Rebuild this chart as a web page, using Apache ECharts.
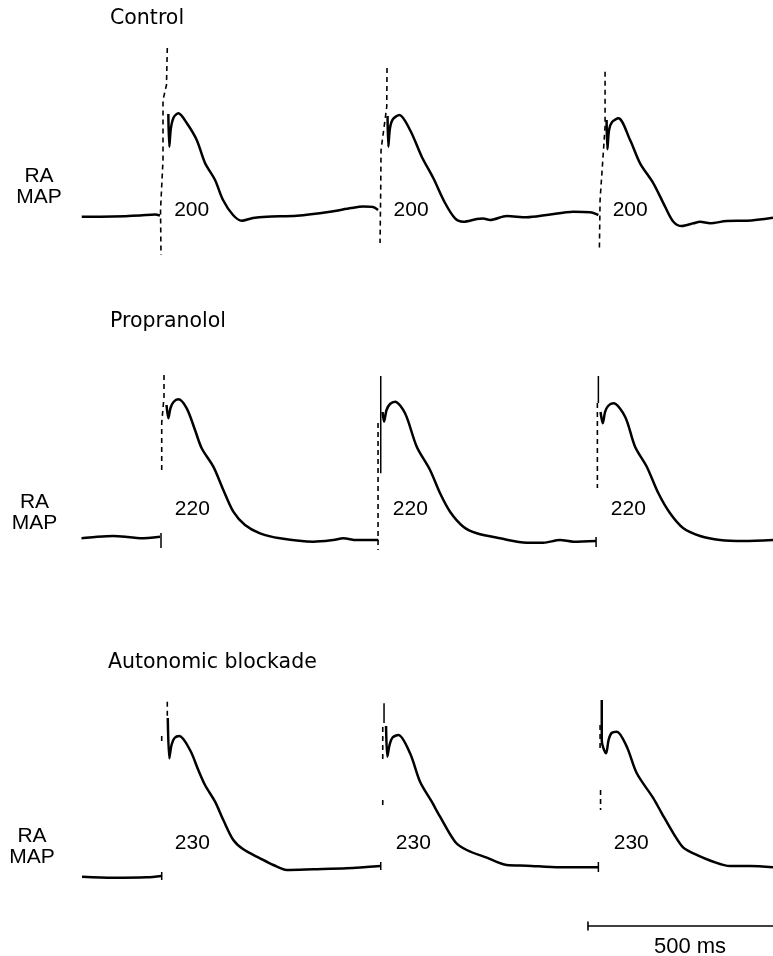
<!DOCTYPE html>
<html><head><meta charset="utf-8">
<script src="https://cdn.jsdelivr.net/npm/echarts@6/dist/echarts.min.js"></script>
<style>html,body{margin:0;padding:0;background:#fff}#c{width:773px;height:956px}</style>
</head><body><div id="c"></div>
<script>
// ---------- DATA ----------
const panelTitles = ['Control', 'Propranolol', 'Autonomic blockade'];
const channelLabel = 'RA\nMAP';
const mapDurations = [[200, 200, 200], [220, 220, 220], [230, 230, 230]];   // ms, printed under each beat
const stimTimes = [[216, 809, 1401], [218, 807, 1396], [218, 815, 1404]];   // pacing stimulus times (ms)
const scaleBarMs = 500;
const scaleBarLabel = '500 ms';
const timeSpanMs = 1870;

// Trace segments: [time ms, amplitude (arbitrary units, baseline ~ 0)]
const controlTrace = [
  [[2,-1.7],[86.5,-1.5],[159.5,-0.5],[200,0.5],[213.5,-0.5]],
  [[236,101],[238.6,68.3],[243,87],[251,98],[263,101.7],[285.7,92],[312.7,75],[335.1,52],[362.2,35],[383.8,15],[410.8,0],[434.3,-5.7],[464.9,-3],[501.9,-1.7],[583,-0.7],[673,3.3],[730,7],[762.2,8.5],[789.2,8],[802.7,5]],
  [[828.4,99],[830.5,68.3],[835,87],[843.2,96],[860.3,100],[889.2,85],[920.8,58.3],[952.2,36.7],[983.8,12],[1010.8,-3.3],[1033.2,-6.7],[1069.5,-4],[1086.5,-3.5],[1105.4,-5],[1150.5,-1],[1204.6,-2.3],[1258.6,0],[1330.5,3.3],[1375.7,2.7],[1398.1,0]],
  [[1420.3,95],[1422.4,65.7],[1427,85],[1435.1,93],[1452.2,96.7],[1483.8,75],[1510.8,51.7],[1546.8,31.7],[1578.4,8.3],[1600.8,-6.7],[1623.5,-11],[1654.9,-8.3],[1673,-6.7],[1700,-8.3],[1745.1,-6],[1799.2,-5.7],[1870,-2.7]]
];
const controlArtifactsSolid = [];
const controlArtifactsDashed = [
  [[233.2,167],[231,130],[221.6,115],[221.6,55],[214.9,5],[216.2,-40]],
  [[827,147],[826.2,108],[810.8,65],[810,28],[808.1,-28]],
  [[1416.2,143.3],[1416.2,88.3],[1402.7,15],[1400.8,-35]]
];

const propranololTrace = [
  [[1.4,-0.3],[37.8,1],[86.5,2],[127,1],[159.5,-0.3],[213.5,1.3]],
  [[231.1,133],[236,119.7],[241.9,130],[250,136],[263,138.7],[285.7,129.7],[308.1,108],[326.2,89.7],[357.6,71.3],[384.6,48],[411.6,26.3],[443.2,13],[483.8,4.7],[537.8,-0.3],[627.8,-3.7],[681.9,-2],[708.9,-0.3],[745.1,-2],[803.5,-2]],
  [[814.9,126],[818.9,116.3],[825.7,128],[835.1,134],[848.6,136.3],[875.7,124.7],[907.3,91.3],[943.2,68],[970.3,44.7],[997.3,26.3],[1033.2,11.3],[1069.5,4.7],[1132.4,-0.3],[1204.6,-4.7],[1249.5,-4.7],[1294.6,-2],[1330.5,-3.7],[1391.9,-3]],
  [[1404,126],[1410,114.7],[1416.2,126],[1424.3,132],[1438.6,134.7],[1470.3,121.3],[1497.3,91.3],[1528.9,71.3],[1560.3,44.7],[1591.9,24.7],[1627.8,9.7],[1673,2],[1727,-2],[1790,-3],[1870,-2]]
];
const propranololArtifactsSolid = [
  [[810,162],[810,64.7]],
  [[1398.1,162],[1398.1,135]],
  [[216.2,5],[216.2,-10]],
  [[1391.9,1],[1391.9,-9]]
];
const propranololArtifactsDashed = [
  [[224.3,163],[224.3,141],[218.1,115],[218.1,65]],
  [[802.7,115],[802.7,-12]],
  [[1395.4,135],[1395.4,50]]
];

const blockadeTrace = [
  [[2.7,-8.7],[86.5,-9.7],[177.6,-9.3],[218.1,-8]],
  [[234.5,150],[238.6,109.7],[244.6,123],[252.7,130],[265.7,132],[294.6,118],[317,98],[335.1,83],[362.2,66.3],[384.6,48],[411.6,28],[438.6,18.7],[483.8,9.7],[519.7,3],[555.9,-2],[627.8,-1.3],[718.1,-0.3],[810,2]],
  [[824.3,142],[827.8,111.3],[833.8,123],[841.9,130.5],[857.6,133],[889.2,114.7],[916.2,86.3],[947.8,66.3],[970.3,51.3],[1010.8,26.3],[1042.4,18],[1096.5,10.3],[1150.5,3],[1204.6,2.3],[1294.6,0.7],[1398.1,0.7]],
  [[1407.3,168],[1407.3,127],[1418.9,114.7],[1425.7,128],[1433.8,135],[1447.8,136.3],[1474.9,121.3],[1501.9,94.7],[1546.8,69.7],[1569.5,54.7],[1600.8,34.7],[1627.8,20.3],[1654.9,14.7],[1708.9,6.3],[1754.1,2],[1808.1,2],[1870,0.7]]
];
const blockadeArtifactsSolid = [
  [[818.9,164.7],[818.9,145]],
  [[218.1,-4],[218.1,-12]],
  [[810,6],[810,-2]],
  [[1398.1,6],[1398.1,-4]]
];
const blockadeArtifactsDashed = [
  [[233.2,166.3],[233.2,152]],
  [[218.1,132],[218.1,127]],
  [[815.4,141],[815.4,108]],
  [[815.4,68],[815.4,60]],
  [[1402.7,143],[1402.7,118]],
  [[1404,78],[1404,58]]
];

// ---------- LAYOUT / STYLE ----------
const panels = [
  {trace: controlTrace, solid: controlArtifactsSolid, dashed: controlArtifactsDashed,
   grid: {top: 35, height: 230}, yMin: -50, yMax: 180, labelY: 5,
   title: [110, 19], chan: [39, 187]},
  {trace: propranololTrace, solid: propranololArtifactsSolid, dashed: propranololArtifactsDashed,
   grid: {top: 358, height: 230}, yMin: -50, yMax: 180, labelY: 29,
   title: [110, 322], chan: [34.5, 513]},
  {trace: blockadeTrace, solid: blockadeArtifactsSolid, dashed: blockadeArtifactsDashed,
   grid: {top: 688, height: 250}, yMin: -70, yMax: 180, labelY: 25,
   title: [108, 662.5], chan: [32, 846.5]}
];
const labelOffsetMs = 83;
const INK = '#000';
const NUM_FONT = '"Liberation Sans", Arial, sans-serif';
const TITLE_FONT = '"DejaVu Sans", sans-serif';

const grids = [], xAxes = [], yAxes = [], series = [], graphics = [];
panels.forEach((p, i) => {
  grids.push({left: 81, width: 692, top: p.grid.top, height: p.grid.height});
  xAxes.push({type: 'value', gridIndex: i, min: 0, max: timeSpanMs, show: false});
  yAxes.push({type: 'value', gridIndex: i, min: p.yMin, max: p.yMax, show: false});
  p.trace.forEach(seg => series.push({
    type: 'line', xAxisIndex: i, yAxisIndex: i, data: seg, showSymbol: false, smooth: 0.3,
    lineStyle: {color: INK, width: 2.5}, silent: true
  }));
  p.solid.forEach(seg => series.push({
    type: 'line', xAxisIndex: i, yAxisIndex: i, data: seg, showSymbol: false,
    lineStyle: {color: INK, width: 1.5}, silent: true
  }));
  p.dashed.forEach(seg => series.push({
    type: 'line', xAxisIndex: i, yAxisIndex: i, data: seg, showSymbol: false,
    lineStyle: {color: INK, width: 1.6, type: [5, 4]}, silent: true
  }));
  series.push({
    type: 'scatter', xAxisIndex: i, yAxisIndex: i, symbolSize: 0, silent: true,
    itemStyle: {opacity: 1}, emphasis: {disabled: true},
    data: stimTimes[i].map((t, k) => [t + labelOffsetMs, p.labelY, mapDurations[i][k]]),
    label: {show: true, position: 'inside', formatter: d => String(d.value[2]), opacity: 1,
            color: INK, fontSize: 21, fontFamily: NUM_FONT, textBorderWidth: 0}
  });
  graphics.push({type: 'text', x: p.title[0], y: p.title[1],
    style: {text: panelTitles[i], fill: INK, fontSize: 20.5, fontFamily: TITLE_FONT,
            align: 'left', verticalAlign: 'middle'}});
  graphics.push({type: 'text', x: p.chan[0], y: p.chan[1],
    style: {text: channelLabel, fill: INK, fontSize: 21, fontFamily: NUM_FONT, lineHeight: 21,
            align: 'center', verticalAlign: 'middle'}});
});

// scale bar in the last panel
const sbY = -58;
series.push({type: 'line', xAxisIndex: 2, yAxisIndex: 2, showSymbol: false, silent: true,
  data: [[timeSpanMs - scaleBarMs, sbY], [timeSpanMs, sbY]], lineStyle: {color: INK, width: 1.6}});
series.push({type: 'line', xAxisIndex: 2, yAxisIndex: 2, showSymbol: false, silent: true,
  data: [[timeSpanMs - scaleBarMs, sbY + 4.5], [timeSpanMs - scaleBarMs, sbY - 4.5]], lineStyle: {color: INK, width: 1.6}});
graphics.push({type: 'text', x: 690, y: 946.5,
  style: {text: scaleBarLabel, fill: INK, fontSize: 22, fontFamily: NUM_FONT, align: 'center', verticalAlign: 'middle'}});

const chart = echarts.init(document.getElementById('c'), null, {renderer: 'canvas'});
chart.setOption({
  animation: false, backgroundColor: '#fff',
  grid: grids, xAxis: xAxes, yAxis: yAxes, series: series, graphic: graphics
});
</script></body></html>
